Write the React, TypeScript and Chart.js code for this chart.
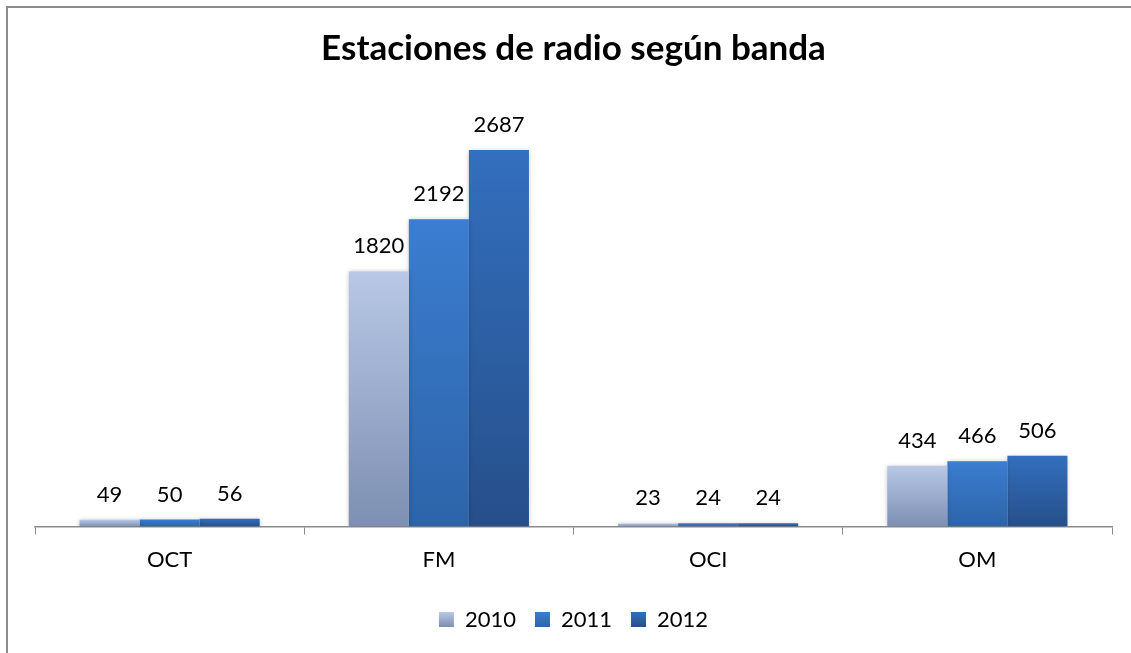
import React, { useEffect, useRef } from "react";
import { Chart, registerables } from "chart.js";

Chart.register(...registerables);

const categories = ["OCT", "FM", "OCI", "OM"];
const seriesLabels = ["2010", "2011", "2012"];
const values2010 = [49, 1820, 23, 434];
const values2011 = [50, 2192, 24, 466];
const values2012 = [56, 2687, 24, 506];
const yMax = 3000;
const titleText = "Estaciones de radio según banda";

const gradientTops = ["#B8C8E6", "#3B7DD0", "#336FBE"];
const gradientBottoms = ["#7D8FB2", "#2D64A8", "#264F8A"];

function makeGradient(chart: any, i: number, top: number, bottom: number) {
  const g = chart.ctx.createLinearGradient(0, top, 0, bottom);
  g.addColorStop(0, gradientTops[i]);
  g.addColorStop(1, gradientBottoms[i]);
  return g;
}

function barColor(i: number) {
  return (ctx: any) => {
    const chart = ctx.chart;
    const ys = chart.scales && chart.scales.y;
    if (!chart.chartArea || !ys || ctx.type !== "data") return gradientTops[i];
    const top = ys.getPixelForValue(ctx.raw as number);
    const bottom = ys.getPixelForValue(0);
    if (!isFinite(top) || !isFinite(bottom) || bottom - top < 1) return gradientTops[i];
    return makeGradient(chart, i, top, bottom);
  };
}

const framePlugin = {
  id: "frame",
  beforeDraw(chart: any) {
    const c = chart.ctx;
    c.save();
    c.fillStyle = "#ffffff";
    c.fillRect(0, 0, chart.width, chart.height);
    c.strokeStyle = "#8c8c8c";
    c.lineWidth = 2;
    c.strokeRect(7, 7, chart.width + 20, chart.height + 20);
    c.restore();
    const legend = chart.legend;
    if (legend && legend.legendItems && legend.legendHitBoxes) {
      legend.legendItems.forEach((it: any, i: number) => {
        const hb = legend.legendHitBoxes[i];
        if (!hb) return;
        const cy = hb.top + hb.height / 2;
        it.fillStyle = makeGradient(chart, i, cy - 7.5, cy + 7.5);
      });
    }
  },
};

const shadowPlugin = {
  id: "barShadow",
  beforeDatasetsDraw(chart: any) {
    const c = chart.ctx;
    c.save();
    c.shadowColor = "rgba(0,0,0,0.28)";
    c.shadowBlur = 5;
    c.shadowOffsetX = 0;
    c.shadowOffsetY = 1;
  },
  afterDatasetsDraw(chart: any) {
    chart.ctx.restore();
  },
};

const labelPlugin = {
  id: "valueLabels",
  afterDraw(chart: any) {
    const c = chart.ctx;
    c.save();
    c.font = "22px Lato";
    c.fillStyle = "#000000";
    c.textAlign = "center";
    c.textBaseline = "alphabetic";
    chart.data.datasets.forEach((ds: any, di: number) => {
      const meta = chart.getDatasetMeta(di);
      meta.data.forEach((el: any, i: number) => {
        c.fillText(String(ds.data[i]), el.x, el.y - 18);
      });
    });
    c.restore();
  },
};

export default function App() {
  const ref = useRef<HTMLCanvasElement | null>(null);
  useEffect(() => {
    if (!ref.current) return;
    Chart.defaults.font.family = "Lato";
    const allValues = [values2010, values2011, values2012];
    const chart = new Chart(ref.current, {
      type: "bar",
      data: {
        labels: categories,
        datasets: allValues.map((vals, i) => ({
          label: seriesLabels[i],
          data: vals,
          backgroundColor: barColor(i),
          borderWidth: 0,
          categoryPercentage: 0.669,
          barPercentage: 1,
        })),
      },
      options: {
        animation: false,
        responsive: true,
        maintainAspectRatio: false,
        layout: { padding: { left: 35, right: 19, top: 0, bottom: 12.5 } },
        plugins: {
          title: {
            display: true,
            text: titleText,
            color: "#000000",
            font: { size: 35, weight: "bold", family: "Lato" },
            padding: { top: 28, bottom: 36 },
          },
          legend: {
            position: "bottom",
            labels: {
              color: "#000000",
              font: { size: 22, family: "Lato" },
              boxWidth: 15,
              boxHeight: 15,
              padding: 19,
            },
          },
          tooltip: { enabled: false },
        },
        scales: {
          x: {
            afterFit(scale: any) {
              scale.height += 4.5;
            },
            grid: {
              display: true,
              drawOnChartArea: false,
              drawTicks: true,
              tickLength: 8,
              color: "#8c8c8c",
              offset: true,
            },
            border: { display: true, color: "#8c8c8c", width: 1.5 },
            ticks: { color: "#000000", font: { size: 22, family: "Lato" }, padding: 12 },
          },
          y: {
            display: false,
            min: 0,
            max: yMax,
          },
        },
      },
      plugins: [framePlugin, shadowPlugin, labelPlugin],
    });
    return () => chart.destroy();
  }, []);
  return (
    <div style={{ position: "fixed", left: 0, top: 0, width: 1131, height: 653, background: "#fff" }}>
      <canvas ref={ref} />
    </div>
  );
}
